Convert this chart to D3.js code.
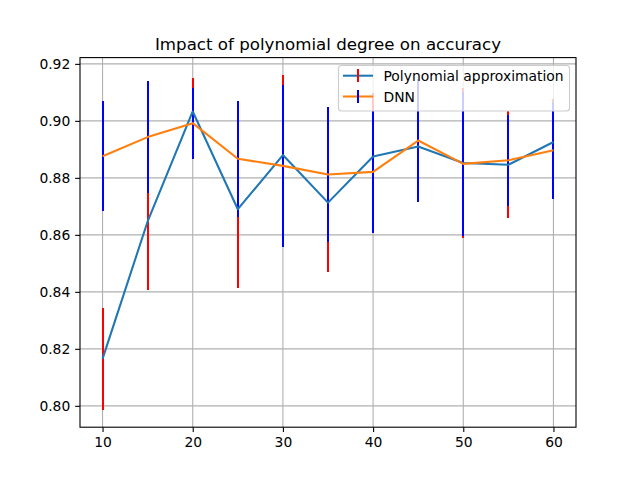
<!DOCTYPE html>
<html>
<head>
<meta charset="utf-8">
<script src="https://cdn.jsdelivr.net/npm/d3@7"></script>
<style>
  body { margin: 0; background: #fff; }
  svg { font-family: "DejaVu Sans", sans-serif; }
</style>
</head>
<body>
<div id="chart"></div>
<script>
// polynomial degrees
const degrees = [10, 15, 20, 25, 30, 35, 40, 45, 50, 55, 60];

// polynomial approximation: mean accuracy and std
const polyMean = [0.8165, 0.8647, 0.9033, 0.8690, 0.8880, 0.8713, 0.8875, 0.8910, 0.8852, 0.8846, 0.8926];
const polyErr  = [0.0179, 0.0242, 0.0117, 0.0275, 0.0281, 0.0245, 0.0223, 0.0190, 0.0263, 0.0188, 0.0151];

// DNN: mean accuracy and std
const dnnMean = [0.8876, 0.8943, 0.8992, 0.8867, 0.8842, 0.8812, 0.8821, 0.8931, 0.8849, 0.8862, 0.8897];
const dnnErr  = [0.0194, 0.0196, 0.0125, 0.0203, 0.0285, 0.0237, 0.0213, 0.0216, 0.0253, 0.0160, 0.0170];

const xTicks = [10, 20, 30, 40, 50, 60];
const yTicks = [0.80, 0.82, 0.84, 0.86, 0.88, 0.90, 0.92];

const W = 640, H = 480;
const margin = { left: 80, right: 64, top: 57.6, bottom: 52.8 };

const svg = d3.select("#chart").append("svg")
    .attr("width", W)
    .attr("height", H);

const x = d3.scaleLinear()
    .domain([7.5, 62.5])
    .range([margin.left, W - margin.right]);

const y = d3.scaleLinear()
    .domain([0.7925, 0.9222])
    .range([H - margin.bottom, margin.top]);

// grid
svg.append("g")
    .selectAll("line.gx")
    .data(xTicks)
    .enter().append("line")
    .attr("x1", d => x(d)).attr("x2", d => x(d))
    .attr("y1", margin.top).attr("y2", H - margin.bottom)
    .attr("stroke", "#b0b0b0").attr("stroke-width", 1.1);

svg.append("g")
    .selectAll("line.gy")
    .data(yTicks)
    .enter().append("line")
    .attr("x1", margin.left).attr("x2", W - margin.right)
    .attr("y1", d => y(d)).attr("y2", d => y(d))
    .attr("stroke", "#b0b0b0").attr("stroke-width", 1.1);

svg.append("defs").append("clipPath").attr("id", "plot")
    .append("rect")
    .attr("x", margin.left).attr("y", margin.top)
    .attr("width", W - margin.left - margin.right)
    .attr("height", H - margin.top - margin.bottom);

const plot = svg.append("g").attr("clip-path", "url(#plot)");

// error bars snapped to whole pixels so blue covers red cleanly
function errorBars(means, errs, color) {
    plot.append("g")
        .selectAll("line")
        .data(degrees)
        .enter().append("line")
        .attr("x1", d => Math.round(x(d))).attr("x2", d => Math.round(x(d)))
        .attr("y1", (d, i) => y(means[i] - errs[i]))
        .attr("y2", (d, i) => y(means[i] + errs[i]))
        .attr("stroke", color)
        .attr("stroke-width", 2)
        .attr("shape-rendering", "crispEdges");
}

errorBars(polyMean, polyErr, "red");
errorBars(dnnMean, dnnErr, "blue");

const line = means => d3.line()
    .x((d, i) => x(degrees[i]))
    .y(d => y(d))(means);

plot.append("path")
    .attr("d", line(polyMean))
    .attr("fill", "none")
    .attr("stroke", "#1f77b4")
    .attr("stroke-width", 2.08)
    .attr("stroke-linejoin", "round");

plot.append("path")
    .attr("d", line(dnnMean))
    .attr("fill", "none")
    .attr("stroke", "#ff7f0e")
    .attr("stroke-width", 2.08)
    .attr("stroke-linejoin", "round");

// axes
const xAxis = svg.append("g")
    .attr("transform", `translate(0,${H - margin.bottom})`)
    .call(d3.axisBottom(x).tickValues(xTicks).tickSize(4.86).tickPadding(4.86).tickFormat(d3.format("d")));

const yAxis = svg.append("g")
    .attr("transform", `translate(${margin.left},0)`)
    .call(d3.axisLeft(y).tickValues(yTicks).tickSize(4.86).tickPadding(4.86).tickFormat(d3.format(".2f")));

[xAxis, yAxis].forEach(a => {
    a.select(".domain").remove();
    a.selectAll(".tick line").attr("stroke", "#000").attr("stroke-width", 1.1);
    a.selectAll(".tick text")
        .attr("fill", "#000")
        .style("font-size", "13.89px")
        .style("font-family", "DejaVu Sans, sans-serif");
});

// frame
svg.append("rect")
    .attr("x", margin.left).attr("y", margin.top)
    .attr("width", W - margin.left - margin.right)
    .attr("height", H - margin.top - margin.bottom)
    .attr("fill", "none")
    .attr("stroke", "#000")
    .attr("stroke-width", 1.1);

// title
svg.append("text")
    .attr("x", (margin.left + W - margin.right) / 2)
    .attr("y", 50)
    .attr("text-anchor", "middle")
    .style("font-size", "16.67px")
    .text("Impact of polynomial degree on accuracy");

// legend
const legend = svg.append("g");
legend.append("rect")
    .attr("x", 338.5).attr("y", 65.5)
    .attr("width", 231).attr("height", 45.5)
    .attr("rx", 3)
    .attr("fill", "#fff").attr("fill-opacity", 0.8)
    .attr("stroke", "#cccccc").attr("stroke-width", 1.1);

const legendItems = [
    { label: "Polynomial approximation", line: "#1f77b4", err: "red" },
    { label: "DNN", line: "#ff7f0e", err: "blue" }
];

legendItems.forEach((it, i) => {
    const cy = 75.7 + i * 20.8;
    legend.append("line")
        .attr("x1", 343).attr("x2", 373)
        .attr("y1", cy).attr("y2", cy)
        .attr("stroke", it.line).attr("stroke-width", 2.08);
    legend.append("line")
        .attr("x1", 358).attr("x2", 358)
        .attr("y1", cy - 6.5).attr("y2", cy + 6.5)
        .attr("stroke", it.err).attr("stroke-width", 2)
        .attr("shape-rendering", "crispEdges");
    legend.append("text")
        .attr("x", 383.5)
        .attr("y", cy + 5)
        .style("font-size", "13.89px")
        .text(it.label);
});
</script>
</body>
</html>
